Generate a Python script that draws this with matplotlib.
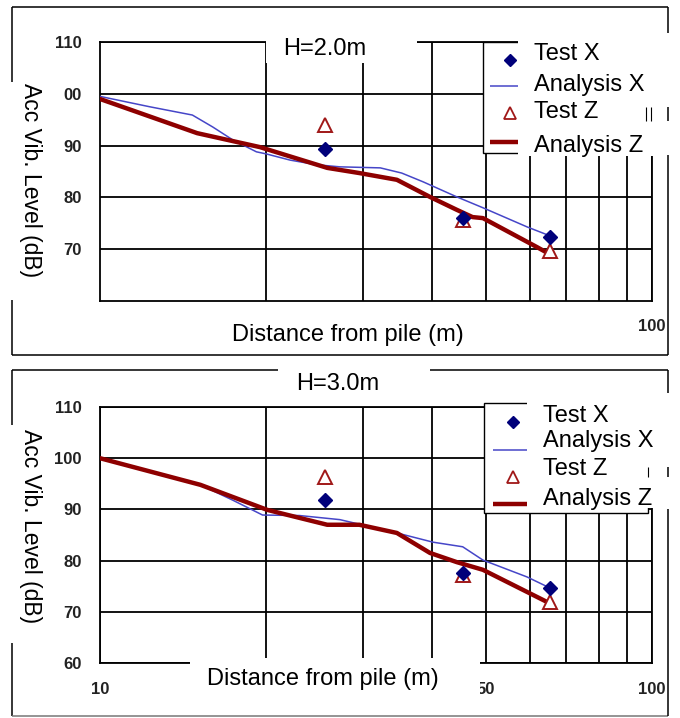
import matplotlib
matplotlib.use("Agg")
import matplotlib.pyplot as plt
from matplotlib.lines import Line2D
from matplotlib.patches import Rectangle
from matplotlib.transforms import Affine2D
from matplotlib.ticker import FixedLocator, NullFormatter

plt.rcParams['font.family'] = ['Liberation Sans', 'DejaVu Sans']

# ---------------- data ----------------
series_names = ["Test X", "Analysis X", "Test Z", "Analysis Z"]
panel_titles = ["H=2.0m", "H=3.0m"]
x_label = "Distance from pile (m)"
y_label = "Acc Vib. Level (dB)"

test_dist = [25.6, 45.5, 65.3]

h2_test_x = [89.3, 76.0, 72.4]
h2_test_z = [94.0, 75.6, 69.6]
h2_anal_x_dist = [10, 12.3, 14.7, 16.0, 17.4, 19.2, 20.0, 22.1, 24.7, 27.2, 32.2, 35.2, 38.5, 44.3, 49.4, 59.4, 64.9]
h2_anal_x = [99.5, 97.5, 95.9, 93.6, 91.1, 88.8, 88.4, 87.2, 86.3, 85.9, 85.7, 84.7, 83.0, 80.1, 78.0, 74.3, 72.7]
h2_anal_z_dist = [10, 15.0, 19.5, 25.8, 29.5, 34.5, 39.6, 44.3, 47.3, 49.4, 61.9, 64.6]
h2_anal_z = [99.0, 92.4, 89.7, 85.7, 84.7, 83.4, 80.1, 77.6, 76.2, 76.0, 70.4, 69.3]

h3_test_x = [91.8, 77.6, 74.7]
h3_test_z = [96.3, 77.2, 71.9]
h3_anal_x_dist = [10, 15.2, 17.4, 19.7, 23.0, 27.2, 34.5, 40.1, 45.4, 49.4, 59.4, 64.9]
h3_anal_x = [100.0, 94.8, 91.8, 88.9, 88.8, 88.0, 85.4, 83.6, 82.7, 80.1, 76.8, 74.8]
h3_anal_z_dist = [10, 15.2, 20.1, 25.8, 29.5, 34.5, 39.6, 44.3, 49.4, 64.6]
h3_anal_z = [100.0, 94.8, 89.9, 87.0, 87.0, 85.4, 81.5, 79.7, 78.2, 71.9]

top_yticks = [70, 80, 90, 100, 110]
top_yticklabels = ["70", "80", "90", "00", "110"]
bot_yticks = [60, 70, 80, 90, 100, 110]
bot_yticklabels = ["60", "70", "80", "90", "100", "110"]
top_xticks = [100]
top_xticklabels = ["100"]
bot_xticks = [10, 50, 100]
bot_xticklabels = ["10", "50", "100"]
minor_x_top = [20, 30, 40, 50, 60, 70, 80, 90]
minor_x_bot = [20, 30, 40, 60, 70, 80, 90]

# ---------------- styles ----------------
C_TX = "#00007a"
C_AX = "#4646c8"
C_TZ = "#a01818"
C_AZ = "#8e0000"

W, H = 680, 718
fig = plt.figure(figsize=(W / 100, H / 100), dpi=100)
T = Affine2D().scale(1 / W, -1 / H).translate(0, 1) + fig.transFigure


def add_axes(left, top, right, bottom):
    return fig.add_axes([left / W, 1 - bottom / H, (right - left) / W, (bottom - top) / H])


ax1 = add_axes(100, 42, 652, 301)
ax2 = add_axes(100, 407, 652, 663)

tick_font = dict(family='Liberation Sans', weight='bold', size=12)


def style(ax, yt, ytl, xt, xtl, minor_x, xpad):
    ax.set_xscale('log')
    ax.set_xlim(10, 100)
    ax.set_ylim(60, 110)
    ax.xaxis.set_major_locator(FixedLocator(xt))
    ax.set_xticklabels(xtl)
    ax.xaxis.set_minor_locator(FixedLocator(minor_x))
    ax.xaxis.set_minor_formatter(NullFormatter())
    ax.set_yticks(yt)
    ax.set_yticklabels(ytl)
    ax.grid(True, which='both', axis='x', color='black', lw=1.3)
    ax.grid(True, which='major', axis='y', color='black', lw=1.3)
    ax.set_axisbelow(True)
    ax.tick_params(which='both', length=0)
    ax.tick_params(axis='y', pad=13.0)
    ax.tick_params(axis='x', pad=xpad)
    for lab in ax.get_xticklabels() + ax.get_yticklabels():
        lab.set_fontproperties(tick_font)
        lab.set_color('#222222')
    for s in ax.spines.values():
        s.set_color('black')
        s.set_linewidth(1.3)


style(ax1, top_yticks, top_yticklabels, top_xticks, top_xticklabels, minor_x_top, 13.0)
style(ax2, bot_yticks, bot_yticklabels, bot_xticks, bot_xticklabels, minor_x_bot, 14.0)


def plot_panel(ax, axd, axv, azd, azv, tx, tz):
    ax.plot(axd, axv, color=C_AX, lw=1.1, zorder=3)
    ax.plot(azd, azv, color=C_AZ, lw=3.2, zorder=4)
    ax.plot(test_dist, tz, linestyle='none', marker='^', ms=10.5, mfc='white',
            mec=C_TZ, mew=1.4, zorder=5)
    ax.plot(test_dist, tx, linestyle='none', marker='D', ms=7.6, mfc=C_TX,
            mec=C_TX, zorder=6)


plot_panel(ax1, h2_anal_x_dist, h2_anal_x, h2_anal_z_dist, h2_anal_z, h2_test_x, h2_test_z)
plot_panel(ax2, h3_anal_x_dist, h3_anal_x, h3_anal_z_dist, h3_anal_z, h3_test_x, h3_test_z)


# ---------------- overlays (pixel coordinates) ----------------
def rect(x0, y0, x1, y1, ec='none', lw=1.0, z=2):
    fig.add_artist(Rectangle((x0, y0), x1 - x0, y1 - y0, transform=T,
                             facecolor='white', edgecolor=ec, lw=lw, zorder=z))


def seg(x0, y0, x1, y1, color='black', lw=1.1, z=5):
    fig.add_artist(Line2D([x0, x1], [y0, y1], transform=T, color=color, lw=lw,
                          zorder=z, solid_capstyle='butt'))


# white boxes that cover parts of the plot
rect(266, 25, 417, 63)                 # title box top
rect(483, 42, 720, 153, ec='black', lw=1.0)   # legend box top
rect(518, 33, 690, 156)
rect(278, 358, 430, 400)               # title box bottom
rect(484, 403, 648, 513, ec='black', lw=1.0)  # legend box bottom
rect(527, 393, 690, 508)
rect(190, 658, 480, 705)               # x label box bottom

# outer frames
seg(12, 7, 668, 7)
seg(12, 7, 12, 82)
seg(12, 300, 12, 355)
seg(12, 355, 668, 355)
seg(668, 7, 668, 33)
seg(668, 155, 668, 355)
seg(668, 107, 668, 121)
seg(646, 107, 646, 121, lw=0.8)
seg(651, 107, 651, 121, lw=0.8)

seg(12, 370, 278, 370)
seg(430, 370, 668, 370)
seg(12, 370, 12, 425)
seg(12, 643, 12, 716)
seg(12, 716, 668, 716, color='#777777')
seg(668, 370, 668, 393)
seg(668, 509, 668, 716)
seg(668, 467, 668, 477)
seg(648, 467, 648, 477, lw=0.8)

# texts
txt = dict(transform=T, fontsize=17, color='black', zorder=6)
fig.text(325, 55, panel_titles[0], ha='center', va='baseline', **txt)
fig.text(338, 390, panel_titles[1], ha='center', va='baseline', **txt)
fig.text(348, 341, x_label, ha='center', va='baseline', **txt)
fig.text(323, 685, x_label, ha='center', va='baseline', **txt)
fig.text(30, 180, y_label, ha='center', va='center', rotation=-90,
         rotation_mode='anchor', transform=T, fontsize=16.5, zorder=6)
fig.text(30, 526, y_label, ha='center', va='center', rotation=-90,
         rotation_mode='anchor', transform=T, fontsize=16.5, zorder=6)


# legends
def legend(tx, baselines, mk_x, ln_x0, ln_x1, mk_ys):
    for name, b in zip(series_names, baselines):
        fig.text(tx, b, name, ha='left', va='baseline', **txt)
    fig.add_artist(Line2D([mk_x], [mk_ys[0]], transform=T, marker='D', ms=6.5,
                          mfc=C_TX, mec=C_TX, linestyle='none', zorder=7))
    seg(ln_x0, mk_ys[1], ln_x1, mk_ys[1], color=C_AX, lw=1.1, z=7)
    fig.add_artist(Line2D([mk_x], [mk_ys[2]], transform=T, marker='^', ms=8.5,
                          mfc='white', mec=C_TZ, mew=1.3, linestyle='none', zorder=7))
    seg(ln_x0, mk_ys[3], ln_x1, mk_ys[3], color=C_AZ, lw=3.2, z=7)


legend(534, [60, 91, 118, 152], 510, 490, 518, [60, 86, 113, 142])
legend(543, [422, 447, 475, 505], 513, 493, 527, [422, 450, 477, 504])

fig.savefig("out.png", dpi=100)
